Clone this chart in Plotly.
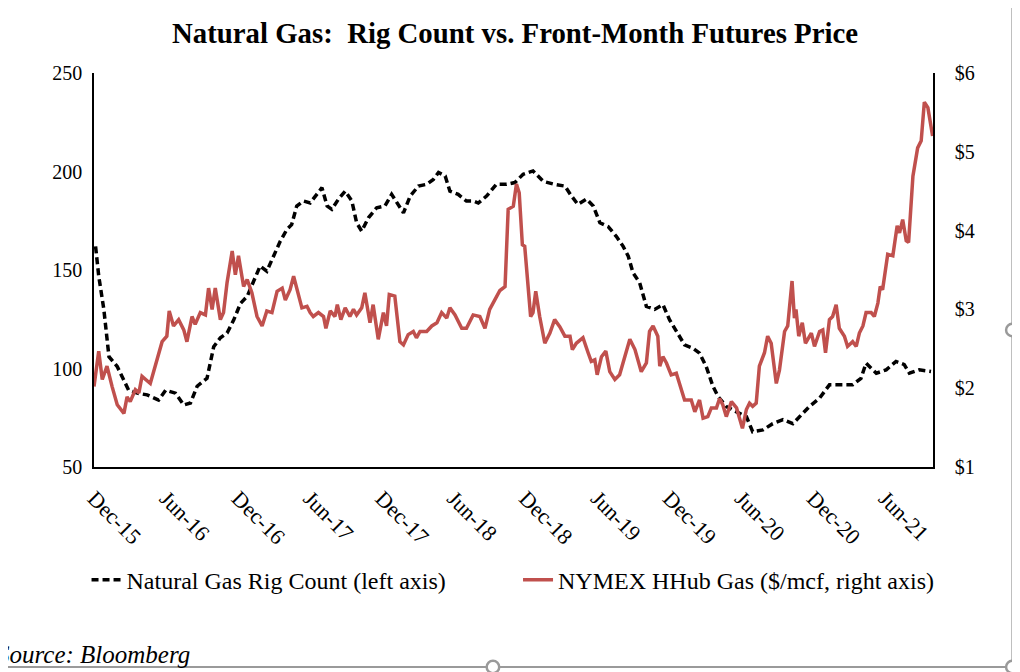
import plotly.graph_objects as go

# Baker Hughes natural gas rig count (left axis)
rig_dates = [
    "2015-12-05", "2015-12-13", "2015-12-26", "2016-01-08", "2016-01-29", "2016-02-15",
    "2016-02-27", "2016-03-20", "2016-04-14", "2016-05-13", "2016-05-31", "2016-06-25",
    "2016-07-16", "2016-08-02", "2016-08-19", "2016-09-13", "2016-09-30", "2016-10-17",
    "2016-11-03", "2016-11-20", "2016-12-07", "2016-12-24", "2017-01-09", "2017-01-26",
    "2017-02-12", "2017-03-01", "2017-03-18", "2017-04-04", "2017-04-16", "2017-04-29",
    "2017-05-16", "2017-06-02", "2017-06-19", "2017-07-02", "2017-07-15", "2017-07-27",
    "2017-08-13", "2017-08-30", "2017-09-16", "2017-09-28", "2017-10-11", "2017-10-28",
    "2017-11-18", "2017-12-09", "2017-12-26", "2018-01-08", "2018-01-25", "2018-02-11",
    "2018-03-04", "2018-03-25", "2018-04-11", "2018-04-24", "2018-05-11", "2018-05-23",
    "2018-06-13", "2018-07-04", "2018-07-21", "2018-08-03", "2018-08-24", "2018-09-18",
    "2018-10-14", "2018-11-04", "2018-11-25", "2018-12-20", "2019-01-15", "2019-02-13",
    "2019-03-11", "2019-03-28", "2019-04-13", "2019-05-05", "2019-05-22", "2019-06-08",
    "2019-06-29", "2019-07-20", "2019-08-06", "2019-08-19", "2019-08-31", "2019-09-17",
    "2019-10-04", "2019-10-25", "2019-11-15", "2019-12-02", "2019-12-23", "2020-01-09",
    "2020-01-30", "2020-02-16", "2020-03-04", "2020-03-21", "2020-04-03", "2020-04-24",
    "2020-05-20", "2020-06-14", "2020-06-30", "2020-07-26", "2020-08-20", "2020-09-15",
    "2020-10-10", "2020-10-31", "2020-11-21", "2020-12-17", "2021-01-11", "2021-02-05",
    "2021-03-11", "2021-04-01", "2021-04-14", "2021-05-10", "2021-06-04", "2021-06-29",
    "2021-07-20", "2021-08-02", "2021-08-27", "2021-09-26",
]
rig_count = [
    162, 147, 130, 106, 101, 94,
    89, 87.5, 86.6, 84, 89, 87.5,
    81.5, 82.5, 91, 95, 111, 115.6,
    118, 124.7, 133, 136.6, 144, 152,
    149.4, 157, 164.6, 170.6, 173, 182.5,
    185, 184, 188.4, 191.8, 182.5, 180.8,
    186, 190, 185, 174, 169.7, 176.5,
    181.6, 182.5, 188.4, 184, 179, 187.5,
    192.6, 193.5, 196, 199.5, 197.7, 190,
    188.4, 185, 185, 184, 187.5, 193.5,
    193.5, 194.4, 198.6, 200.3, 195, 193.5,
    192.6, 187.5, 183.3, 186, 182.5, 174,
    172, 167, 162, 157, 148.6, 143.5,
    131.5, 130, 132.4, 124.7, 118, 112,
    110.3, 107.8, 101, 91, 85.8, 80.7,
    78, 75.6, 67.9, 68.8, 72, 74,
    72, 76.4, 80.7, 85, 91.7, 91.7,
    91.7, 95, 102.7, 97.6, 99.3, 103.6,
    102, 97.6, 99.3, 98.5,
]

# NYMEX Henry Hub front-month futures, $/mcf (right axis)
gas_dates = [
    "2015-12-01", "2015-12-13", "2015-12-22", "2016-01-03", "2016-01-16", "2016-01-29",
    "2016-02-15", "2016-02-23", "2016-03-02", "2016-03-15", "2016-03-24", "2016-04-01",
    "2016-04-22", "2016-05-09", "2016-05-22", "2016-06-03", "2016-06-09", "2016-06-20",
    "2016-07-03", "2016-07-16", "2016-07-24", "2016-08-06", "2016-08-14", "2016-08-27",
    "2016-09-09", "2016-09-17", "2016-09-26", "2016-10-04", "2016-10-17", "2016-10-25",
    "2016-11-03", "2016-11-16", "2016-11-24", "2016-12-02", "2016-12-15", "2016-12-24",
    "2017-01-05", "2017-01-18", "2017-01-31", "2017-02-12", "2017-02-25", "2017-03-10",
    "2017-03-23", "2017-03-31", "2017-04-12", "2017-04-21", "2017-04-29", "2017-05-12",
    "2017-05-25", "2017-06-02", "2017-06-10", "2017-06-23", "2017-07-06", "2017-07-12",
    "2017-07-23", "2017-08-04", "2017-08-10", "2017-08-19", "2017-08-30", "2017-09-11",
    "2017-09-20", "2017-09-28", "2017-10-11", "2017-10-19", "2017-11-01", "2017-11-09",
    "2017-11-22", "2017-12-05", "2017-12-13", "2017-12-20", "2018-01-03", "2018-01-16",
    "2018-01-25", "2018-02-06", "2018-02-19", "2018-02-27", "2018-03-08", "2018-03-25",
    "2018-04-07", "2018-04-20", "2018-05-02", "2018-05-15", "2018-05-23", "2018-06-05",
    "2018-06-22", "2018-07-04", "2018-07-21", "2018-08-07", "2018-08-20", "2018-09-01",
    "2018-09-14", "2018-09-27", "2018-10-10", "2018-10-18", "2018-10-31", "2018-11-08",
    "2018-11-15", "2018-11-23", "2018-11-29", "2018-12-08", "2018-12-14", "2018-12-20",
    "2018-12-27", "2019-01-06", "2019-01-19", "2019-02-01", "2019-02-13", "2019-02-26",
    "2019-03-11", "2019-03-24", "2019-03-30", "2019-04-09", "2019-04-26", "2019-05-09",
    "2019-05-17", "2019-05-26", "2019-06-01", "2019-06-12", "2019-06-23", "2019-07-03",
    "2019-07-16", "2019-07-28", "2019-08-10", "2019-08-23", "2019-09-05", "2019-09-21",
    "2019-10-04", "2019-10-12", "2019-10-21", "2019-11-02", "2019-11-07", "2019-11-15",
    "2019-11-24", "2019-12-06", "2019-12-19", "2020-01-01", "2020-01-09", "2020-01-26",
    "2020-02-04", "2020-02-16", "2020-02-25", "2020-03-08", "2020-03-17", "2020-03-30",
    "2020-04-07", "2020-04-15", "2020-04-24", "2020-05-07", "2020-05-20", "2020-06-04",
    "2020-06-14", "2020-06-22", "2020-06-30", "2020-07-09", "2020-07-17", "2020-07-30",
    "2020-08-07", "2020-08-16", "2020-08-29", "2020-09-06", "2020-09-19", "2020-09-27",
    "2020-10-08", "2020-10-14", "2020-10-18", "2020-10-25", "2020-11-03", "2020-11-11",
    "2020-11-26", "2020-12-04", "2020-12-17", "2020-12-25", "2021-01-01", "2021-01-11",
    "2021-01-19", "2021-01-28", "2021-02-05", "2021-02-18", "2021-02-26", "2021-03-11",
    "2021-03-20", "2021-03-28", "2021-04-06", "2021-04-14", "2021-04-27", "2021-05-05",
    "2021-05-14", "2021-05-20", "2021-05-26", "2021-06-08", "2021-06-21", "2021-07-02",
    "2021-07-08", "2021-07-16", "2021-07-25", "2021-07-31", "2021-08-11", "2021-08-23",
    "2021-09-01", "2021-09-09", "2021-09-18", "2021-09-30",
]
gas_price = [
    2.02, 2.47, 2.11, 2.28, 2.02, 1.79,
    1.68, 1.89, 1.83, 1.98, 1.94, 2.15,
    2.06, 2.36, 2.59, 2.66, 2.98, 2.79,
    2.87, 2.74, 2.59, 2.91, 2.81, 2.96,
    2.93, 3.27, 3.00, 3.27, 2.87, 2.96,
    3.34, 3.74, 3.44, 3.68, 3.29, 3.38,
    3.21, 2.91, 2.79, 2.98, 2.96, 3.23,
    3.27, 3.12, 3.25, 3.42, 3.27, 3.02,
    3.04, 2.96, 2.91, 2.96, 2.91, 2.76,
    2.98, 2.91, 3.06, 2.87, 3.02, 2.91,
    3.00, 2.93, 3.02, 3.21, 2.83, 3.06,
    2.62, 2.96, 2.79, 3.19, 3.17, 2.59,
    2.55, 2.68, 2.72, 2.64, 2.72, 2.72,
    2.79, 2.83, 2.96, 2.89, 3.02, 2.93,
    2.76, 2.76, 2.93, 2.91, 2.76, 3.00,
    3.12, 3.24, 3.29, 4.27, 4.31, 4.59,
    4.48, 3.82, 3.80, 3.21, 2.91, 2.96,
    3.23, 2.91, 2.57, 2.70, 2.87, 2.78,
    2.66, 2.66, 2.49, 2.57, 2.64, 2.45,
    2.34, 2.36, 2.17, 2.40, 2.47, 2.21,
    2.11, 2.17, 2.38, 2.62, 2.49, 2.21,
    2.32, 2.72, 2.79, 2.66, 2.28, 2.40,
    2.32, 2.17, 2.19, 1.98, 1.85, 1.85,
    1.70, 1.85, 1.62, 1.64, 1.75, 1.75,
    1.87, 1.79, 1.64, 1.83, 1.75, 1.49,
    1.73, 1.81, 1.77, 1.81, 2.28, 2.45,
    2.66, 2.57, 2.06, 2.23, 2.72, 2.79,
    3.36, 2.89, 3.00, 2.66, 2.83, 2.57,
    2.70, 2.53, 2.72, 2.74, 2.45, 2.87,
    2.91, 3.06, 2.76, 2.66, 2.53, 2.59,
    2.53, 2.70, 2.79, 2.96, 2.96, 2.91,
    3.08, 3.29, 3.25, 3.70, 3.68, 4.06,
    3.97, 4.14, 3.87, 3.85, 4.69, 5.05,
    5.14, 5.63, 5.56, 5.20,
]

tick_dates = [
    "2015-12-01", "2016-06-01", "2016-12-01", "2017-06-01", "2017-12-01", "2018-06-01",
    "2018-12-01", "2019-06-01", "2019-12-01", "2020-06-01", "2020-12-01", "2021-06-01",
]
tick_labels = [
    "Dec-15", "Jun-16", "Dec-16", "Jun-17", "Dec-17", "Jun-18",
    "Dec-18", "Jun-19", "Dec-19", "Jun-20", "Dec-20", "Jun-21",
]

FONT = "Liberation Serif, Times New Roman, serif"
RED = "#C0504D"
GREY = "#9a9a9a"

fig = go.Figure()
fig.add_trace(go.Scatter(
    x=rig_dates, y=rig_count, mode="lines",
    name="Natural Gas Rig Count (left axis)", legend="legend",
    line=dict(color="black", width=3.5, dash="7px,4px"),
))
fig.add_trace(go.Scatter(
    x=gas_dates, y=gas_price, mode="lines", yaxis="y2",
    name="NYMEX HHub Gas ($/mcf, right axis)", legend="legend2",
    line=dict(color=RED, width=3.5),
))

axis_common = dict(showgrid=False, zeroline=False, showline=True, linecolor="black",
                   linewidth=1.5, ticks="", tickfont=dict(size=20, color="black"))
legend_common = dict(orientation="h", xanchor="left", y=-0.287, yanchor="middle",
                     font=dict(size=24, color="black"), bgcolor="rgba(0,0,0,0)")

fig.update_layout(
    width=1020, height=672,
    margin=dict(l=85.5, r=94.5, t=65, b=213),
    paper_bgcolor="white", plot_bgcolor="white",
    font=dict(family=FONT, color="black"),
    title=dict(text="<b>Natural Gas:\u00a0\u00a0Rig Count vs. Front-Month Futures Price</b>",
               x=0.5018, xref="paper", xanchor="center", y=0.9628, yanchor="middle",
               font=dict(size=28.8, color="black")),
    xaxis=dict(axis_common, type="date", range=["2015-12-01", "2021-10-01"],
               tickvals=tick_dates, ticktext=tick_labels, tickangle=45,
               tickfont=dict(size=22, color="black"), ticklabelstandoff=8),
    yaxis=dict(axis_common, range=[50, 250], dtick=50, tick0=50, ticklabelstandoff=6),
    yaxis2=dict(axis_common, overlaying="y", side="right", range=[1, 6], dtick=1,
                tick0=1, tickprefix="$", ticklabelstandoff=16),
    legend=dict(legend_common, x=-0.0089),
    legend2=dict(legend_common, x=0.5054),
    showlegend=True,
)

fig.add_annotation(text="<i>Source: Bloomberg</i>", xref="paper", yref="paper",
                   x=-0.1185, y=-0.477, xanchor="left", yanchor="middle",
                   showarrow=False, font=dict(size=25, color="black"))

# picture frame and handles around the pasted chart
fig.add_shape(type="line", xref="paper", yref="paper", x0=1.0946, x1=1.0946,
              y0=1.2, y1=-0.5076, line=dict(color=GREY, width=2))
fig.add_shape(type="line", xref="paper", yref="paper", x0=-0.2, x1=1.0946,
              y0=-0.5076, y1=-0.5076, line=dict(color=GREY, width=2))
for cx, cy in [(1.0946, 0.3477), (0.4755, -0.5076), (1.0946, -0.5076)]:
    fig.add_shape(type="circle", xref="paper", yref="paper",
                  x0=cx - 0.0075, x1=cx + 0.0075, y0=cy - 0.016, y1=cy + 0.016,
                  line=dict(color=GREY, width=2.5), fillcolor="white")

fig.write_html("out.html")
